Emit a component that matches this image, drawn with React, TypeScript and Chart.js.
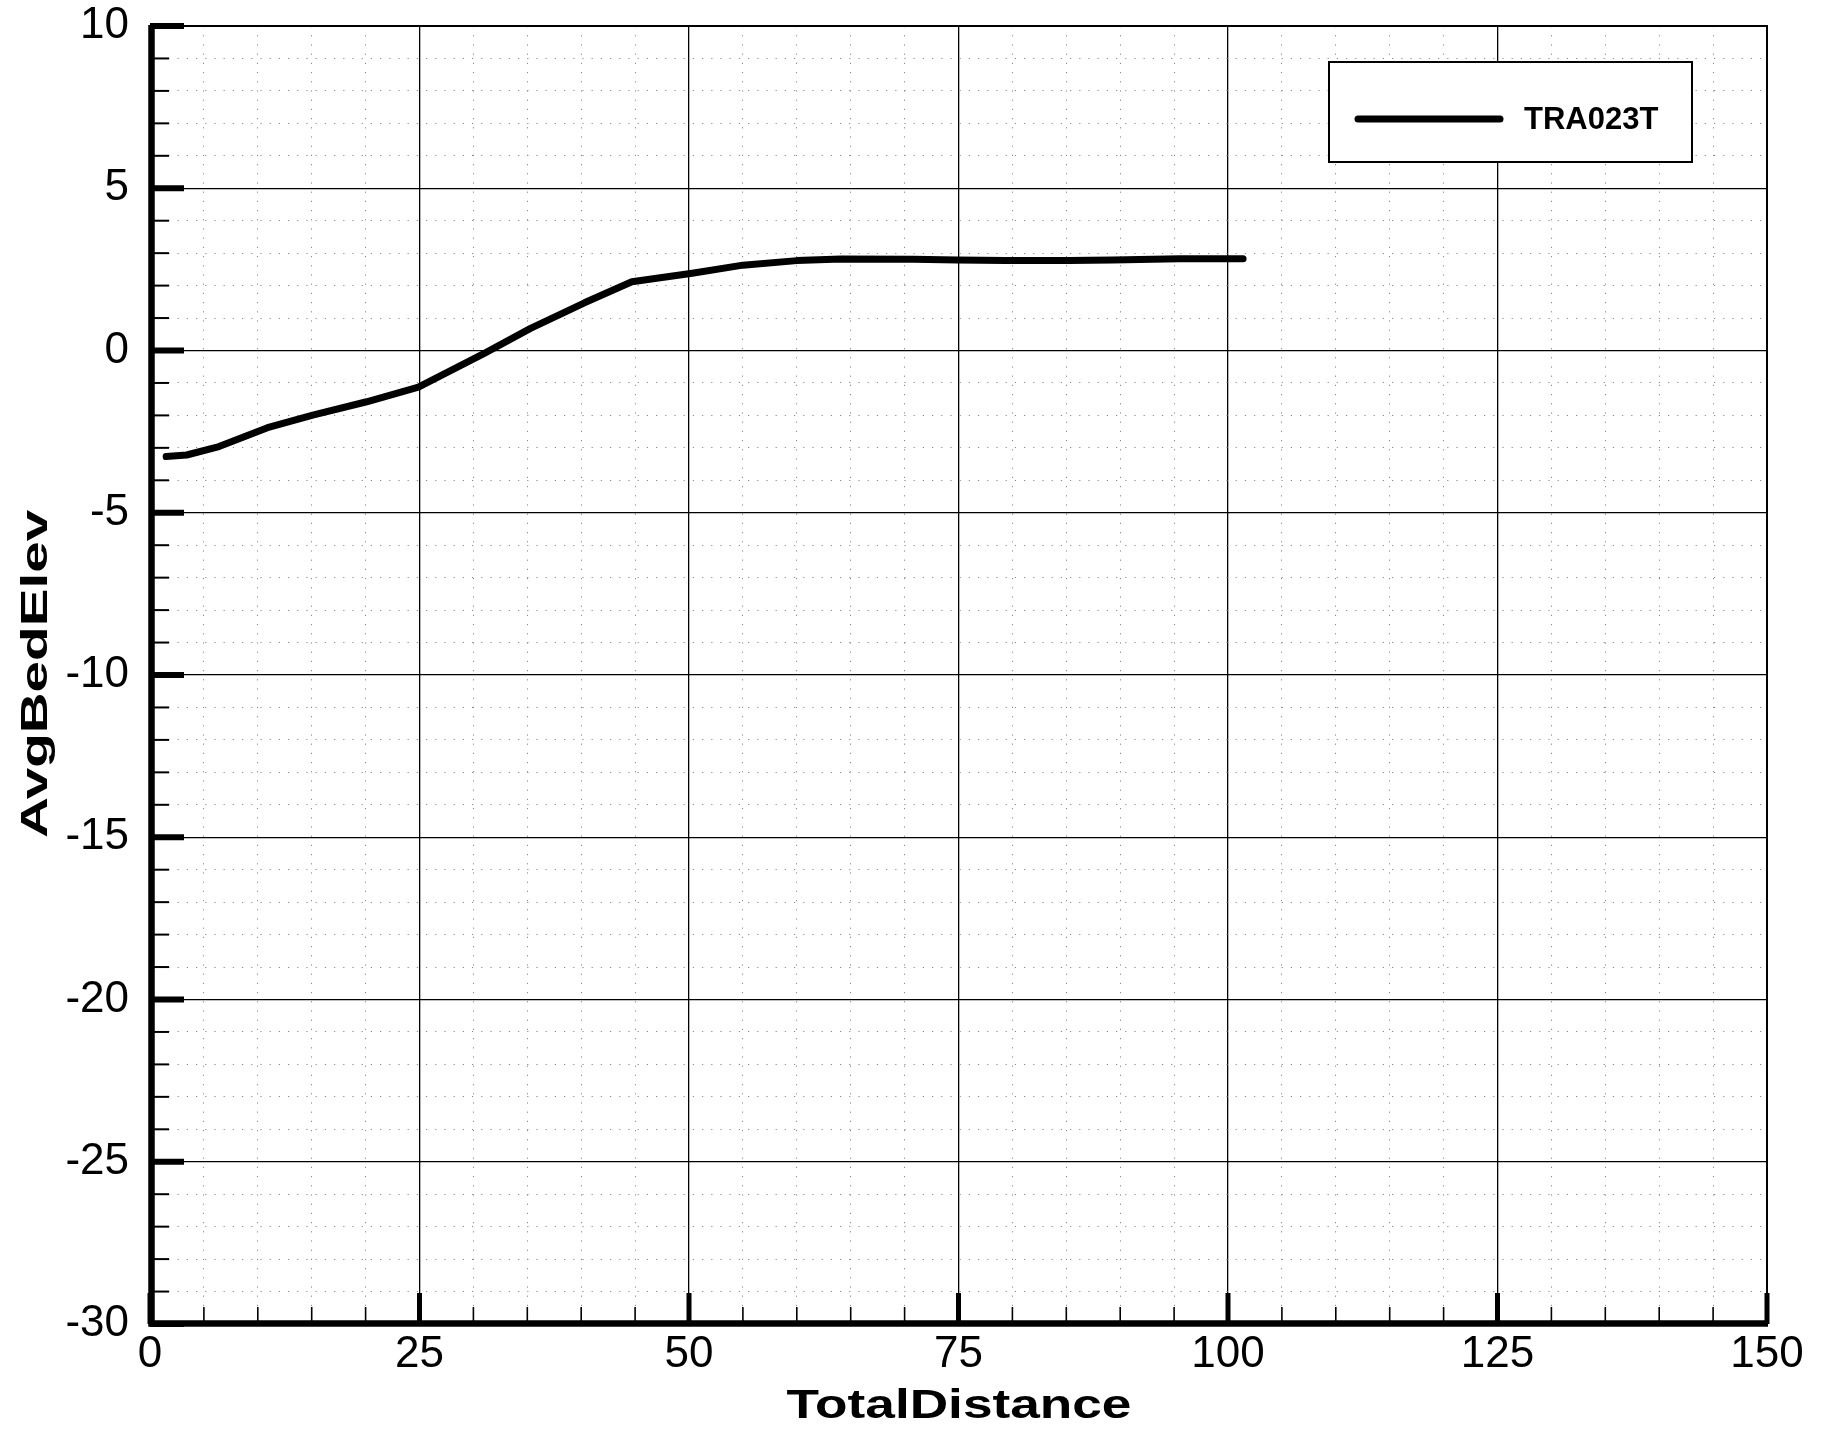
import React, { useEffect, useRef } from 'react';
import { Chart, registerables } from 'chart.js';

Chart.register(...registerables);

// ---- data ----
const DISTANCE = [1.5, 3.4, 6.4, 10.9, 15.1, 20.1, 24.9, 31.1, 35.3, 40.3, 44.7, 50.3, 55.0, 60.0, 64.1, 70.8, 74.9, 79.4, 85.2, 89.3, 95.5, 101.4];
const AVG_BED_ELEV = [-3.27, -3.22, -2.96, -2.38, -1.99, -1.58, -1.13, -0.07, 0.68, 1.47, 2.12, 2.38, 2.63, 2.77, 2.82, 2.81, 2.79, 2.77, 2.77, 2.79, 2.83, 2.83];
const SERIES_LABEL = 'TRA023T';
const X_TITLE = 'TotalDistance';
const Y_TITLE = 'AvgBedElev';
const X_TICK_LABELS = [0, 25, 50, 75, 100, 125, 150];
const Y_TICK_LABELS = [10, 5, 0, -5, -10, -15, -20, -25, -30];
const X_MINOR_STEP = 5;
const Y_MINOR_STEP = 1;

const FONT = '"Liberation Sans", Arial, Helvetica, sans-serif';
const W = 1826;
const H = 1433;

function isMajor(v: number, list: number[]) {
  return list.some((m) => Math.abs(m - v) < 1e-6);
}

function drawStretched(ctx: CanvasRenderingContext2D, text: string, x: number, y: number, sx: number, rotate: boolean) {
  ctx.save();
  ctx.translate(x, y);
  if (rotate) ctx.rotate(-Math.PI / 2);
  ctx.scale(sx, 1);
  ctx.textAlign = 'center';
  ctx.textBaseline = 'alphabetic';
  ctx.fillText(text, 0, 0);
  ctx.restore();
}

const decorPlugin = {
  id: 'decor',
  afterDraw(chart: any) {
    const { ctx, chartArea: a, scales } = chart;
    const xs = scales.x;
    const ys = scales.y;
    ctx.save();
    ctx.strokeStyle = '#000';
    ctx.fillStyle = '#000';
    ctx.lineCap = 'butt';

    // frame
    ctx.lineWidth = 2;
    ctx.strokeRect(a.left, a.top, a.right - a.left, a.bottom - a.top);

    // x ticks (inward from bottom)
    xs.ticks.forEach((t: any) => {
      const px = xs.getPixelForValue(t.value);
      const major = isMajor(t.value, X_TICK_LABELS);
      ctx.lineWidth = major ? 5 : 1.6;
      ctx.beginPath();
      ctx.moveTo(px, a.bottom);
      ctx.lineTo(px, a.bottom - (major ? 31 : 17));
      ctx.stroke();
    });
    // y ticks (inward from left)
    ys.ticks.forEach((t: any) => {
      const py = ys.getPixelForValue(t.value);
      const major = isMajor(t.value, Y_TICK_LABELS);
      ctx.lineWidth = major ? 6 : 2;
      ctx.beginPath();
      ctx.moveTo(a.left, py);
      ctx.lineTo(a.left + (major ? 34 : 19), py);
      ctx.stroke();
    });

    // thick left & bottom axes
    ctx.lineWidth = 6.5;
    ctx.beginPath();
    ctx.moveTo(a.left + 1.5, a.top - 1);
    ctx.lineTo(a.left + 1.5, a.bottom - 0.5);
    ctx.lineTo(a.right + 1, a.bottom - 0.5);
    ctx.stroke();

    // axis titles (bold, wide)
    ctx.font = `bold 40px ${FONT}`;
    drawStretched(ctx, X_TITLE, 959, 1418, 1.33, false);
    ctx.font = `bold 37px ${FONT}`;
    drawStretched(ctx, Y_TITLE, 47, 674, 1.53, true);

    // legend box
    const ds = chart.data.datasets[0];
    const bx = 1329, by = 62, bw = 363, bh = 100;
    ctx.fillStyle = '#fff';
    ctx.fillRect(bx, by, bw, bh);
    ctx.lineWidth = 2;
    ctx.strokeStyle = '#000';
    ctx.strokeRect(bx, by, bw, bh);
    ctx.lineWidth = 7;
    ctx.lineCap = 'round';
    ctx.beginPath();
    ctx.moveTo(1358, 119);
    ctx.lineTo(1500, 119);
    ctx.stroke();
    ctx.fillStyle = '#000';
    ctx.font = `bold 31px ${FONT}`;
    ctx.textAlign = 'left';
    ctx.textBaseline = 'alphabetic';
    ctx.fillText(ds.label, 1524, 129);

    ctx.restore();
  },
};

export default function App() {
  const ref = useRef<HTMLCanvasElement | null>(null);

  useEffect(() => {
    if (!ref.current) return;
    const points = DISTANCE.map((d, i) => ({ x: d, y: AVG_BED_ELEV[i] }));
    const chart = new Chart(ref.current, {
      type: 'scatter',
      data: {
        datasets: [
          {
            label: SERIES_LABEL,
            data: points,
            showLine: true,
            borderColor: '#000',
            backgroundColor: '#000',
            borderWidth: 7,
            pointRadius: 0,
            borderCapStyle: 'round',
            borderJoinStyle: 'round',
            tension: 0,
          },
        ],
      },
      options: {
        animation: false,
        responsive: false,
        devicePixelRatio: 1,
        layout: { padding: { top: 26, right: 59, bottom: 0, left: 0 } },
        plugins: {
          legend: { display: false },
          tooltip: { enabled: false },
        },
        scales: {
          x: {
            type: 'linear',
            min: X_TICK_LABELS[0],
            max: X_TICK_LABELS[X_TICK_LABELS.length - 1],
            afterFit(scale: any) {
              scale.height = 109;
              scale.paddingLeft = 0;
              scale.paddingRight = 0;
            },
            ticks: {
              stepSize: X_MINOR_STEP,
              autoSkip: false,
              maxRotation: 0,
              padding: 4,
              color: '#000',
              font: { family: FONT, size: 44 },
              callback: (v: any) => (isMajor(Number(v), X_TICK_LABELS) ? String(v) : ''),
            },
            grid: {
              drawTicks: false,
              color: (c: any) => (c.tick && isMajor(c.tick.value, X_TICK_LABELS) ? '#000' : '#8a8a8a'),
              lineWidth: (c: any) => (c.tick && isMajor(c.tick.value, X_TICK_LABELS) ? 1.3 : 1),
            },
            border: {
              display: false,
              dash: (c: any) => (c.tick && isMajor(c.tick.value, X_TICK_LABELS) ? [] : [1.2, 8]),
            },
          },
          y: {
            type: 'linear',
            min: Y_TICK_LABELS[Y_TICK_LABELS.length - 1],
            max: Y_TICK_LABELS[0],
            afterFit(scale: any) {
              scale.width = 150;
              scale.paddingTop = 0;
              scale.paddingBottom = 0;
            },
            ticks: {
              stepSize: Y_MINOR_STEP,
              autoSkip: false,
              padding: 21,
              color: '#000',
              font: { family: FONT, size: 44 },
              callback: (v: any) => (isMajor(Number(v), Y_TICK_LABELS) ? String(v) : ''),
            },
            grid: {
              drawTicks: false,
              color: (c: any) => (c.tick && isMajor(c.tick.value, Y_TICK_LABELS) ? '#000' : '#8a8a8a'),
              lineWidth: (c: any) => (c.tick && isMajor(c.tick.value, Y_TICK_LABELS) ? 1.3 : 1),
            },
            border: {
              display: false,
              dash: (c: any) => (c.tick && isMajor(c.tick.value, Y_TICK_LABELS) ? [] : [1.2, 8]),
            },
          },
        },
      } as any,
      plugins: [decorPlugin],
    });
    return () => chart.destroy();
  }, []);

  return (
    <div style={{ position: 'fixed', left: 0, top: 0, width: W, height: H, background: '#fff' }}>
      <canvas ref={ref} width={W} height={H} style={{ display: 'block', width: W, height: H }} />
    </div>
  );
}
